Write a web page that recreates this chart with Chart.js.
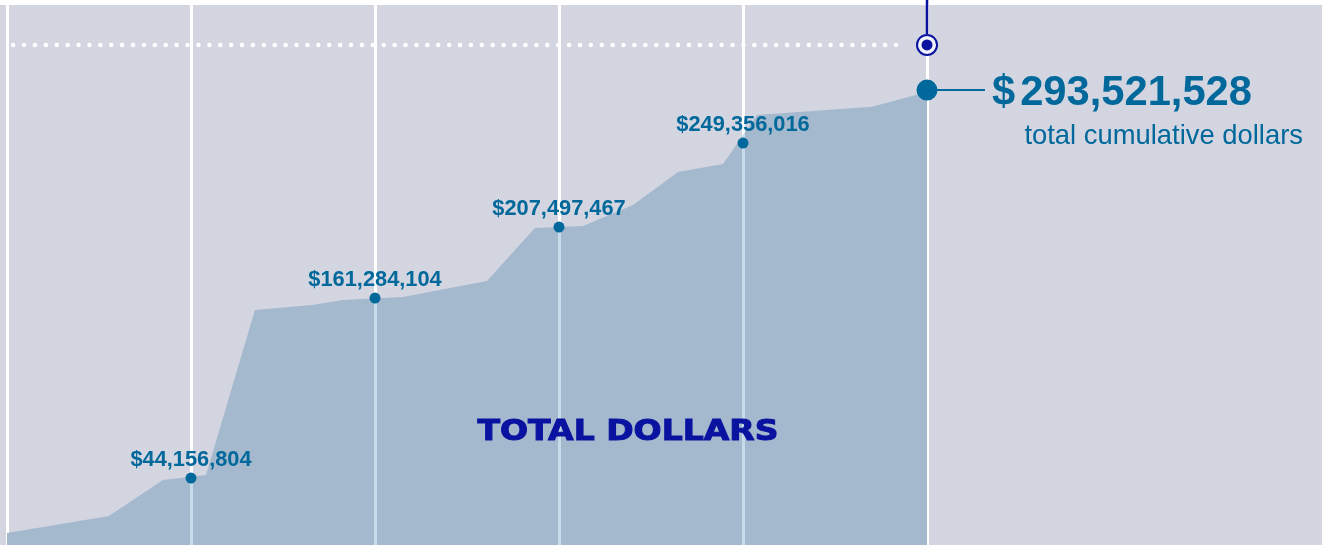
<!DOCTYPE html>
<html>
<head>
<meta charset="utf-8">
<script src="https://cdn.jsdelivr.net/npm/chart.js@4/dist/chart.umd.min.js"></script>
<style>
  html, body { margin: 0; padding: 0; background: #ffffff; }
  #wrap { width: 1322px; height: 545px; }
</style>
</head>
<body>
<div id="wrap"><canvas id="total-grafica" width="1322" height="545"></canvas></div>
<script>
// values are in millions of dollars, x is months since start
const areaMonths = [0, 6.65, 10.17, 12.98, 16.17, 19.89, 21.91, 25.83, 31.3, 34.43, 37.57, 40.83, 43.76, 46.7, 48.91, 56.41, 60];
const areaValues = [7.7, 18.7, 41.9, 45.2, 151.6, 154.8, 158.0, 160.0, 170.3, 204.5, 205.8, 219.3, 240.6, 245.8, 277.4, 282.8, 292.2];

const dotMonths = [12, 24, 36, 48, 60];
const dotValues = [43.2, 159.3, 205.1, 259.3, 293.5];
const dotLabels = ['$44,156,804', '$161,284,104', '$207,497,467', '$249,356,016'];
const totalLabel = '293,521,528';
const totalSub = 'total cumulative dollars';
const areaTitle = 'TOTAL DOLLARS';

const gridMonths = [0, 12, 24, 36, 48, 60];
const goalValue = 322.6;
const goalMonths = [0.4, 58.6];

(function() {
    const azul = '#00689a';
    const marino = '#0a12a0';
    const fondo = '#d3d5e1';
    const area = '#a4b9cd';
    const lineaInterna = '#c6dce8';
    const fuente = '"Liberation Sans", Arial, sans-serif';

    const xMin = -0.457, xMax = 85.76;
    const yMax = 351.6;

    const fondoPlugin = {
        id: 'fondo',
        beforeDraw(chart) {
            const ctx = chart.ctx;
            ctx.save();
            ctx.fillStyle = '#ffffff';
            ctx.fillRect(0, 0, chart.width, chart.height);
            ctx.fillStyle = fondo;
            ctx.fillRect(0, 5, chart.width, chart.height - 5);
            ctx.restore();
        }
    };

    // light lines where the grid crosses the filled area
    const lineasArea = {
        id: 'lineasArea',
        afterDatasetDraw(chart, args) {
            if (args.index !== 0) return;
            const ctx = chart.ctx;
            const puntos = args.meta.data;
            const x = chart.scales.x;
            const bottom = chart.chartArea.bottom;
            ctx.save();
            ctx.beginPath();
            ctx.moveTo(puntos[0].x, bottom);
            puntos.forEach(p => ctx.lineTo(p.x, p.y));
            ctx.lineTo(puntos[puntos.length - 1].x, bottom);
            ctx.closePath();
            ctx.clip();
            ctx.strokeStyle = lineaInterna;
            ctx.lineWidth = 3;
            gridMonths.slice(1, -1).forEach(m => {
                const px = Math.round(x.getPixelForValue(m)) + 0.5;
                ctx.beginPath();
                ctx.moveTo(px, 0);
                ctx.lineTo(px, bottom);
                ctx.stroke();
            });
            ctx.restore();
        }
    };

    // font size that makes a text reach a given width
    function tamanoPara(ctx, texto, peso, ancho) {
        ctx.font = peso + ' 20px ' + fuente;
        return 20 * ancho / ctx.measureText(texto).width;
    }

    const textos = {
        id: 'textos',
        afterDatasetsDraw(chart) {
            const ctx = chart.ctx;
            const x = chart.scales.x;
            const y = chart.scales.y;
            ctx.save();
            ctx.fillStyle = azul;
            ctx.textAlign = 'center';
            ctx.textBaseline = 'middle';
            const t = tamanoPara(ctx, dotLabels[0], 'bold', 121);
            ctx.font = 'bold ' + t.toFixed(1) + 'px ' + fuente;
            dotLabels.forEach((label, i) => {
                ctx.fillText(label, x.getPixelForValue(dotMonths[i]), y.getPixelForValue(dotValues[i]) - 18);
            });

            // total
            const ultimo = dotValues.length - 1;
            const ty = y.getPixelForValue(dotValues[ultimo]) + 3;
            const tx = x.getPixelForValue(63.78) + 7;
            ctx.textAlign = 'left';
            const tg = tamanoPara(ctx, '$' + totalLabel, 'bold', 255);
            ctx.font = 'bold ' + tg.toFixed(1) + 'px ' + fuente;
            ctx.fillText('$', tx, ty);
            const anchoPeso = ctx.measureText('$').width;
            ctx.fillText(totalLabel, tx + anchoPeso + 5, ty);

            ctx.textAlign = 'right';
            ctx.textBaseline = 'alphabetic';
            const ts = tamanoPara(ctx, totalSub, '', 279);
            ctx.font = ts.toFixed(1) + 'px ' + fuente;
            ctx.fillText(totalSub, chart.width - 19, ty + 51);

            // area title, stretched like the wide original face
            ctx.fillStyle = marino;
            ctx.font = '900 28px "DejaVu Sans", sans-serif';
            ctx.textAlign = 'center';
            ctx.textBaseline = 'middle';
            const ancho = ctx.measureText(areaTitle).width;
            const cx = x.getPixelForValue(40.5);
            const cy = y.getPixelForValue(72.4);
            ctx.translate(cx, cy);
            ctx.scale(301 / ancho, 1);
            ctx.fillText(areaTitle, 0, 0);
            ctx.lineWidth = 1;
            ctx.strokeStyle = marino;
            ctx.strokeText(areaTitle, 0, 0);
            ctx.restore();
        }
    };

    const ctx = document.getElementById('total-grafica').getContext('2d');
    const grafica = new Chart(ctx, {
        type: 'line',
        data: {
            datasets: [
                {
                    label: 'area',
                    data: areaMonths.map((m, i) => ({ x: m, y: areaValues[i] })),
                    backgroundColor: area,
                    borderWidth: 0,
                    pointRadius: 0,
                    fill: 'origin',
                    tension: 0,
                    order: 6
                },
                {
                    label: 'meta',
                    data: goalMonths.map(m => ({ x: m, y: goalValue })),
                    borderColor: '#ffffff',
                    borderWidth: 4.5,
                    borderDash: [0, 10.9],
                    borderCapStyle: 'round',
                    pointRadius: 0,
                    fill: false,
                    order: 5
                },
                {
                    label: 'guia',
                    data: [{ x: 60, y: yMax }, { x: 60, y: 329.5 }],
                    borderColor: marino,
                    borderWidth: 2.5,
                    pointRadius: 0,
                    fill: false,
                    order: 4
                },
                {
                    label: 'conector',
                    data: [{ x: 60, y: dotValues[dotValues.length - 1] }, { x: 63.78, y: dotValues[dotValues.length - 1] }],
                    borderColor: azul,
                    borderWidth: 2,
                    pointRadius: 0,
                    fill: false,
                    order: 3
                },
                {
                    label: 'anillo',
                    data: [{ x: 60, y: goalValue }],
                    showLine: false,
                    pointRadius: 10,
                    pointBackgroundColor: '#f2f3f8',
                    pointBorderColor: marino,
                    pointBorderWidth: 2,
                    order: 2
                },
                {
                    label: 'centro',
                    data: [{ x: 60, y: goalValue }],
                    showLine: false,
                    pointRadius: 5.5,
                    pointBackgroundColor: marino,
                    pointBorderWidth: 0,
                    order: 1
                },
                {
                    label: 'puntos',
                    data: dotMonths.map((m, i) => ({ x: m, y: dotValues[i] })),
                    showLine: false,
                    pointRadius: [5.5, 5.5, 5.5, 5.5, 10.5],
                    pointBackgroundColor: azul,
                    pointBorderWidth: 0,
                    order: 0
                }
            ]
        },
        options: {
            responsive: false,
            devicePixelRatio: 1,
            animation: false,
            layout: { padding: 0, autoPadding: false },
            plugins: {
                legend: { display: false },
                tooltip: { enabled: false }
            },
            scales: {
                x: {
                    type: 'linear',
                    min: xMin,
                    max: xMax,
                    afterBuildTicks: scale => {
                        scale.ticks = gridMonths.map(v => ({ value: v }));
                    },
                    ticks: { display: false },
                    grid: { color: '#ffffff', lineWidth: 3, drawTicks: false },
                    border: { display: false }
                },
                y: {
                    display: false,
                    min: 0,
                    max: yMax
                }
            }
        },
        plugins: [fondoPlugin, lineasArea, textos]
    });
})();
</script>
</body>
</html>
